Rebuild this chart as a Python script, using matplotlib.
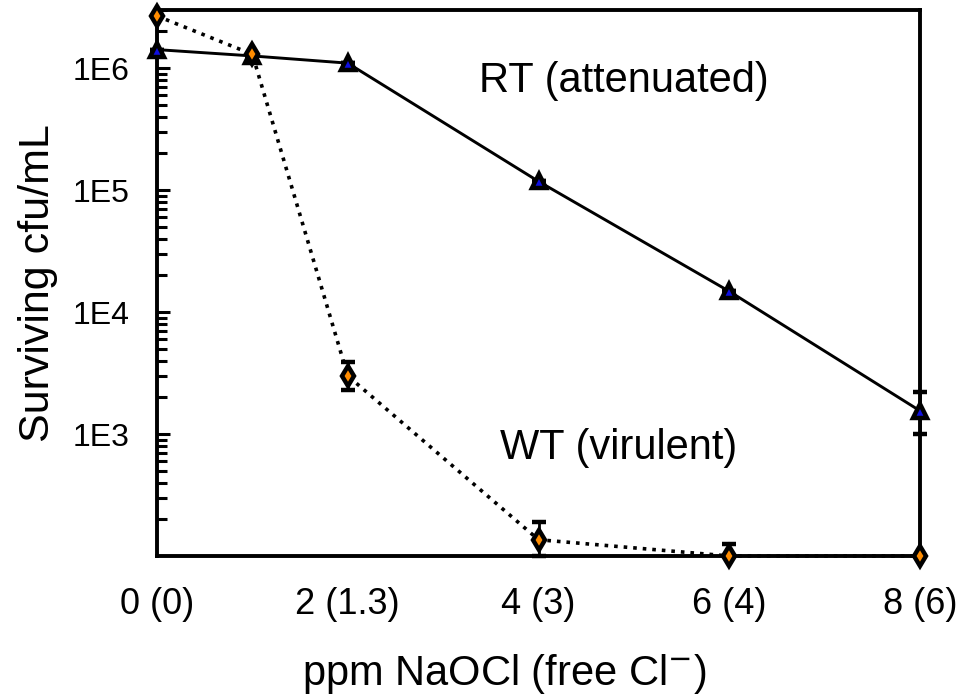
import numpy as np
import matplotlib.pyplot as plt
from matplotlib.ticker import FixedLocator, LogLocator, NullFormatter

plt.rcParams['font.family'] = ['Liberation Sans', 'DejaVu Sans']

# ---- data ----
dose = [0, 1, 2, 4, 6, 8]
dose_ticks = [0, 2, 4, 6, 8]
dose_labels = ["0 (0)", "2 (1.3)", "4 (3)", "6 (4)", "8 (6)"]

rt_cfu = [1.42e6, 1.26e6, 1.10e6, 1.18e5, 1.48e4, 1.55e3]
rt_lo = [1.42e6, 1.26e6, 1.10e6, 1.18e5, 1.48e4, 1.0e3]
rt_hi = [1.42e6, 1.26e6, 1.10e6, 1.18e5, 1.48e4, 2.2e3]

wt_cfu = [2.68e6, 1.30e6, 3.0e3, 1.36e2, 1.0e2, 1.0e2]
wt_lo = [2.68e6, 1.30e6, 2.3e3, 1.0e2, 1.0e2, 1.0e2]
wt_hi = [2.68e6, 1.30e6, 3.9e3, 1.9e2, 1.25e2, 1.0e2]

ytick_vals = [1e3, 1e4, 1e5, 1e6]
ytick_labels = ["1E3", "1E4", "1E5", "1E6"]

# ---- plot ----
fig = plt.figure(figsize=(9.75, 7), dpi=100)
ax = fig.add_axes([157/975, 1 - 556/700, (920 - 157)/975, (556 - 10)/700])

rt_err = [np.array(rt_cfu) - np.array(rt_lo), np.array(rt_hi) - np.array(rt_cfu)]
wt_err = [np.array(wt_cfu) - np.array(wt_lo), np.array(wt_hi) - np.array(wt_cfu)]

ax.errorbar(dose, rt_cfu, yerr=rt_err, color="black", lw=2.1, ls="-",
            marker="^", ms=10, mfc="#1010e0", mec="black", mew=3.2,
            ecolor="black", elinewidth=2, capsize=5, capthick=2,
            clip_on=False, zorder=3)
ax.errorbar(dose, wt_cfu, yerr=wt_err, color="black", lw=2.6, ls=":",
            marker="d", ms=10, mfc="#ff8c00", mec="black", mew=3.2,
            ecolor="black", elinewidth=2, capsize=5, capthick=2,
            clip_on=False, zorder=4)

ax.set_yscale("log")
ax.set_xlim(0, 8)
ax.set_ylim(100, 3e6)

ax.xaxis.set_major_locator(FixedLocator(dose_ticks))
ax.set_xticklabels(dose_labels, fontsize=26)
ax.tick_params(axis="x", length=0, pad=22)

ax.yaxis.set_major_locator(FixedLocator(ytick_vals))
ax.set_yticklabels(ytick_labels, fontsize=23)
ax.yaxis.set_minor_locator(LogLocator(base=10, subs=np.arange(2, 10)))
ax.yaxis.set_minor_formatter(NullFormatter())
ax.tick_params(axis="y", which="major", direction="in", length=9, width=2.2, pad=20)
ax.tick_params(axis="y", which="minor", direction="in", length=7, width=2.2)

for s in ax.spines.values():
    s.set_linewidth(2.8)

ax.set_xlabel("ppm NaOCl (free Cl$^{-}$)", fontsize=30)
ax.xaxis.set_label_coords(0.455, -0.175)
ax.set_ylabel("Surviving cfu/mL", fontsize=31, labelpad=10)

ax.text(4.9, 7.8e5, "RT (attenuated)", fontsize=30, ha="center", va="center")
ax.text(4.84, 7.7e2, "WT (virulent)", fontsize=30, ha="center", va="center")

fig.savefig("out.png", dpi=100)
